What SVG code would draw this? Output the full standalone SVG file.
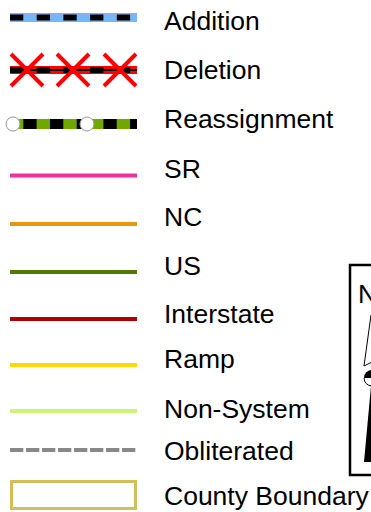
<svg xmlns="http://www.w3.org/2000/svg" width="371" height="512" viewBox="0 0 371 512">
<style>
.lbl{font-family:"Liberation Sans",Arial,sans-serif;font-size:26.5px;fill:#000}
.ln{fill:none;stroke-linecap:butt}
</style>
<rect width="371" height="512" fill="#fff"/>
<g id="legend-addition">
<line class="ln" x1="10" y1="17.5" x2="137" y2="17.5" stroke="#77b5fe" stroke-width="9"/>
<line class="ln" x1="10" y1="17.5" x2="137" y2="17.5" stroke="#000" stroke-width="6" stroke-dasharray="13.3 13.4"/>
<text class="lbl" x="164" y="30">Addition</text>
</g>
<g id="legend-deletion">
<line class="ln" x1="10" y1="70" x2="137" y2="70" stroke="#ff0000" stroke-width="8"/>
<line class="ln" x1="10" y1="70" x2="137" y2="70" stroke="#000" stroke-width="2"/>
<line class="ln" x1="10" y1="70" x2="137" y2="70" stroke="#000" stroke-width="6" stroke-dasharray="13.3 13.4"/>
<g stroke="#ff0000" stroke-width="4">
<path d="M11 54 L43 86 M43 54 L11 86"/>
<path d="M57 54 L89 86 M89 54 L57 86"/>
<path d="M104 54 L136 86 M136 54 L104 86"/>
</g>
<text class="lbl" x="164" y="79">Deletion</text>
</g>
<g id="legend-reassignment">
<line class="ln" x1="10" y1="124" x2="137" y2="124" stroke="#70a800" stroke-width="10"/>
<line class="ln" x1="10" y1="124" x2="137" y2="124" stroke="#000" stroke-width="10" stroke-dasharray="13.3 13.4" stroke-dashoffset="13.4"/>
<circle cx="13" cy="124" r="7" fill="#fff" stroke="#999" stroke-width="1"/>
<circle cx="87" cy="124" r="7" fill="#fff" stroke="#999" stroke-width="1"/>
<text class="lbl" x="164" y="128">Reassignment</text>
</g>
<g id="legend-sr">
<line class="ln" x1="10" y1="175.5" x2="137" y2="175.5" stroke="#ef30a3" stroke-width="4"/>
<text class="lbl" x="164" y="178">SR</text>
</g>
<g id="legend-nc">
<line class="ln" x1="10" y1="224" x2="137" y2="224" stroke="#e5980f" stroke-width="4"/>
<text class="lbl" x="164" y="226">NC</text>
</g>
<g id="legend-us">
<line class="ln" x1="10" y1="272" x2="137" y2="272" stroke="#527a00" stroke-width="4"/>
<text class="lbl" x="164" y="275">US</text>
</g>
<g id="legend-interstate">
<line class="ln" x1="10" y1="319" x2="137" y2="319" stroke="#b00000" stroke-width="4"/>
<text class="lbl" x="164" y="323">Interstate</text>
</g>
<g id="legend-ramp">
<line class="ln" x1="10" y1="365" x2="137" y2="365" stroke="#ffd800" stroke-width="4"/>
<text class="lbl" x="164" y="368">Ramp</text>
</g>
<g id="legend-nonsystem">
<line class="ln" x1="10" y1="411" x2="137" y2="411" stroke="#ccf47a" stroke-width="4"/>
<text class="lbl" x="164" y="418">Non-System</text>
</g>
<g id="legend-obliterated">
<line class="ln" x1="10" y1="450" x2="137" y2="450" stroke="#888" stroke-width="4" stroke-dasharray="13.3 2.7"/>
<text class="lbl" x="164" y="460">Obliterated</text>
</g>
<g id="legend-county">
<rect x="11.5" y="481.5" width="124" height="27" fill="none" stroke="#d4bd5a" stroke-width="3"/>
<text class="lbl" x="164" y="505">County Boundary</text>
</g>
<g id="north-arrow">
<rect x="350" y="265" width="60" height="210" fill="#fff" stroke="#000" stroke-width="2.5"/>
<text class="lbl" x="358" y="303">N</text>
<path d="M371 315 L364 366 L372 362" fill="none" stroke="#000" stroke-width="1"/>
<path d="M364 378 A8 8 0 0 1 372 370 L372 378 Z" fill="#000"/>
<path d="M364 378 A8 8 0 0 0 372 386" fill="none" stroke="#000" stroke-width="1"/>
<path d="M371 386 L364 462 L372 462 Z" fill="#000"/>
</g>
</svg>
